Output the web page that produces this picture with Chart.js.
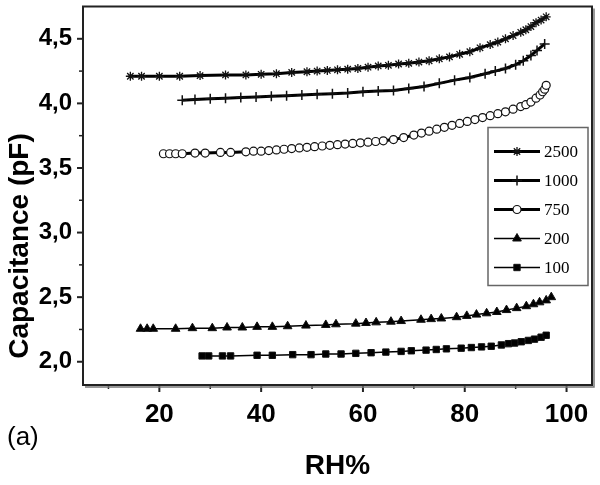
<!DOCTYPE html>
<html>
<head>
<meta charset="utf-8">
<script src="https://cdn.jsdelivr.net/npm/chart.js@4.4.1/dist/chart.umd.min.js"></script>
<style>
  body { margin: 0; background: #fff; }
</style>
</head>
<body>
<canvas id="c" width="600" height="485"></canvas>
<script>
// values (RH in %, capacitance in pF)
const rh2500 = [14.3, 16.5, 20, 24, 28, 33, 37, 40, 43, 46, 49, 51, 53, 55, 57, 59, 61, 63, 65, 67, 69, 71, 73, 75, 77, 79, 81, 83, 85, 86.5, 88, 89.5, 91, 92, 93, 94, 95, 96];
const c2500  = [4.21, 4.21, 4.21, 4.21, 4.215, 4.22, 4.22, 4.225, 4.23, 4.24, 4.245, 4.25, 4.255, 4.26, 4.265, 4.27, 4.28, 4.29, 4.295, 4.305, 4.31, 4.32, 4.33, 4.345, 4.36, 4.38, 4.40, 4.43, 4.455, 4.475, 4.50, 4.525, 4.55, 4.57, 4.595, 4.625, 4.645, 4.67];

const rh1000 = [24.5, 27, 30, 33, 36, 39, 42, 45, 48, 51, 54, 57, 60, 63, 66, 69, 72, 75, 78, 81, 84, 86, 88, 90, 91.5, 93, 94.2, 95.7];
const c1000  = [4.025, 4.03, 4.035, 4.04, 4.045, 4.05, 4.055, 4.06, 4.065, 4.07, 4.075, 4.08, 4.09, 4.095, 4.10, 4.115, 4.13, 4.155, 4.18, 4.20, 4.23, 4.25, 4.27, 4.30, 4.33, 4.37, 4.41, 4.46];

const rh750 = [20.8, 22, 23.2, 24.5, 27, 29, 32, 34, 37, 38.5, 40, 41.5, 43, 44.5, 46, 47.5, 49, 50.5, 52, 53.5, 55, 56.5, 58, 59.5, 61, 62.5, 64, 66, 68, 70, 71.5, 73, 74.5, 76, 77.5, 79, 80.5, 82, 83.5, 85, 86.5, 88, 89.5, 91, 92, 93, 94, 94.8, 95.3, 95.7, 96];
const c750  = [3.61, 3.61, 3.61, 3.61, 3.615, 3.615, 3.62, 3.62, 3.625, 3.63, 3.63, 3.635, 3.64, 3.645, 3.65, 3.655, 3.66, 3.665, 3.67, 3.675, 3.68, 3.685, 3.69, 3.695, 3.70, 3.705, 3.71, 3.72, 3.735, 3.755, 3.77, 3.785, 3.80, 3.815, 3.83, 3.845, 3.86, 3.875, 3.89, 3.905, 3.92, 3.935, 3.955, 3.975, 3.99, 4.01, 4.04, 4.065, 4.09, 4.11, 4.14];

const rh200 = [16.3, 17.6, 18.8, 23.2, 26.5, 30.4, 33.3, 36.3, 39.2, 42.2, 45.2, 48.8, 52.7, 54.7, 58.6, 60.6, 62.6, 65.5, 67.5, 71.4, 73.4, 75.4, 78.4, 80.4, 82.3, 84.3, 86.3, 88.2, 90.2, 92.1, 93.5, 94.7, 96, 97];
const c200  = [2.255, 2.255, 2.255, 2.255, 2.26, 2.26, 2.265, 2.265, 2.27, 2.27, 2.275, 2.28, 2.285, 2.29, 2.295, 2.30, 2.305, 2.31, 2.315, 2.325, 2.33, 2.335, 2.345, 2.355, 2.365, 2.375, 2.385, 2.40, 2.415, 2.43, 2.445, 2.46, 2.475, 2.50];

const rh100 = [28.4, 29.7, 32.4, 34, 39.2, 42.2, 46.2, 49.8, 52.7, 55.7, 58.6, 61.6, 64.5, 67.5, 69.5, 72.4, 74.4, 76.4, 79.3, 81.3, 83.3, 85.2, 87.2, 88.6, 89.8, 91.1, 92.5, 93.7, 95, 96];
const c100  = [2.045, 2.045, 2.045, 2.045, 2.05, 2.05, 2.055, 2.055, 2.06, 2.06, 2.065, 2.07, 2.075, 2.08, 2.085, 2.09, 2.095, 2.10, 2.105, 2.11, 2.115, 2.12, 2.13, 2.14, 2.145, 2.155, 2.165, 2.175, 2.19, 2.205];

const seriesNames = ['2500', '1000', '750', '200', '100'];
const xTickValues = [10, 20, 30, 40, 50, 60, 70, 80, 90, 100];
const yTickValues = [2.0, 2.25, 2.5, 2.75, 3.0, 3.25, 3.5, 3.75, 4.0, 4.25, 4.5];

function pts(xs, ys) {
    return xs.map((x, i) => ({ x: x, y: ys[i] }));
}

function fnt(s, bold) {
    return (bold ? 'bold ' : '') + s + 'px "Liberation Sans", Arial, sans-serif';
}

// frame, tick marks, legend, axis titles
const decor = {
    id: 'decor',
    afterDatasetsDraw(chart) {
        const ctx = chart.ctx, a = chart.chartArea;
        const xs = chart.scales.x, ys = chart.scales.y;
        ctx.save();
        // legend box
        const x0 = a.right - 104, y0 = a.top + 121, w = 100, h = 158;
        ctx.fillStyle = '#fff';
        ctx.fillRect(x0, y0, w, h);
        ctx.strokeStyle = '#666';
        ctx.lineWidth = 1.5;
        ctx.strokeRect(x0, y0, w, h);
        chart.data.datasets.forEach((ds, i) => {
            const y = y0 + 24 + i * 29;
            ctx.strokeStyle = '#000';
            ctx.lineWidth = ds.borderWidth;
            ctx.beginPath();
            ctx.moveTo(x0 + 6, y);
            ctx.lineTo(x0 + 52, y);
            ctx.stroke();
            ctx.fillStyle = ds.pointBackgroundColor;
            ctx.strokeStyle = ds.pointBorderColor;
            ctx.lineWidth = ds.pointBorderWidth;
            if (Chart.helpers && Chart.helpers.drawPoint) {
                Chart.helpers.drawPoint(ctx, { pointStyle: ds.pointStyle, radius: ds.pointRadius, borderWidth: ds.pointBorderWidth, rotation: 0 }, x0 + 29, y);
            }
            ctx.fillStyle = '#000';
            ctx.font = '17px "Liberation Serif", "Times New Roman", serif';
            ctx.textBaseline = 'middle';
            ctx.textAlign = 'left';
            ctx.fillText(ds.label, x0 + 56, y + 1);
        });
        // tick marks
        ctx.strokeStyle = '#222';
        xTickValues.forEach(v => {
            const px = xs.getPixelForValue(v);
            const major = v % 20 === 0;
            ctx.lineWidth = major ? 2 : 1.5;
            ctx.beginPath();
            ctx.moveTo(px, a.bottom);
            ctx.lineTo(px, a.bottom + (major ? 7 : 4));
            ctx.stroke();
        });
        yTickValues.forEach(v => {
            const py = ys.getPixelForValue(v);
            const major = Math.abs(v * 2 - Math.round(v * 2)) < 1e-6;
            ctx.lineWidth = major ? 2 : 1.5;
            ctx.beginPath();
            ctx.moveTo(a.left, py);
            ctx.lineTo(a.left - (major ? 6 : 4), py);
            ctx.stroke();
        });
        // frame
        ctx.strokeStyle = '#222';
        ctx.lineWidth = 2;
        ctx.strokeRect(a.left, a.top, a.right - a.left, a.bottom - a.top);
        ctx.strokeStyle = '#777';
        ctx.lineWidth = 1.5;
        ctx.beginPath();
        ctx.moveTo(a.left + 2, a.bottom + 2);
        ctx.lineTo(a.right + 2, a.bottom + 2);
        ctx.lineTo(a.right + 2, a.top + 2);
        ctx.stroke();
        // titles
        ctx.fillStyle = '#000';
        ctx.textAlign = 'center';
        ctx.textBaseline = 'middle';
        ctx.font = fnt(28, true);
        ctx.fillText('RH%', (a.left + a.right) / 2, 466);
        ctx.save();
        ctx.translate(20, 246);
        ctx.rotate(-Math.PI / 2);
        ctx.fillText('Capacitance (pF)', 0, 0);
        ctx.restore();
        ctx.textAlign = 'left';
        ctx.font = fnt(26, false);
        ctx.fillText('(a)', 7, 438);
        ctx.restore();
    }
};

function lineSet(label, xs, ys, style, radius, lw, pbw, fill) {
    return {
        label: label,
        data: pts(xs, ys),
        borderColor: '#000',
        backgroundColor: '#000',
        borderWidth: lw,
        pointStyle: style,
        pointRadius: radius,
        pointBorderWidth: pbw,
        pointBorderColor: '#111',
        pointBackgroundColor: fill,
        tension: 0,
        fill: false
    };
}

const data = {
    datasets: [
        lineSet(seriesNames[0], rh2500, c2500, 'star', 4.5, 3, 1.3, '#333'),
        lineSet(seriesNames[1], rh1000, c1000, 'cross', 5, 3, 1.5, '#000'),
        lineSet(seriesNames[2], rh750, c750, 'circle', 4, 3, 1.2, '#fff'),
        lineSet(seriesNames[3], rh200, c200, 'triangle', 5, 1.5, 1, '#000'),
        lineSet(seriesNames[4], rh100, c100, 'rect', 4.5, 1.5, 1, '#000')
    ]
};

const config = {
    type: 'line',
    data: data,
    plugins: [decor],
    options: {
        responsive: false,
        animation: false,
        layout: { padding: { top: 5, right: 8, left: 0, bottom: 0 } },
        plugins: { legend: { display: false }, tooltip: { enabled: false } },
        scales: {
            x: {
                type: 'linear',
                min: 5, max: 105,
                afterBuildTicks: s => { s.ticks = xTickValues.map(v => ({ value: v })); },
                afterFit: s => { s.height = 100; s.paddingLeft = 0; s.paddingRight = 0; },
                grid: { drawOnChartArea: false, color: 'transparent', tickLength: 6 },
                border: { display: false },
                ticks: {
                    padding: 8,
                    color: '#000',
                    font: { family: '"Liberation Sans", Arial, sans-serif', size: 26, weight: 'bold' },
                    maxRotation: 0,
                    autoSkip: false,
                    callback: v => (v % 20 === 0 ? String(v) : '')
                }
            },
            y: {
                type: 'linear',
                min: 1.82, max: 4.75,
                afterBuildTicks: s => { s.ticks = yTickValues.map(v => ({ value: v })); },
                afterFit: s => { s.width = 83; s.paddingTop = 0; s.paddingBottom = 0; },
                grid: { drawOnChartArea: false, color: 'transparent', tickLength: 6 },
                border: { display: false },
                ticks: {
                    padding: 5,
                    color: '#000',
                    font: { family: '"Liberation Sans", Arial, sans-serif', size: 24, weight: 'bold' },
                    autoSkip: false,
                    callback: v => (Math.abs(v * 2 - Math.round(v * 2)) < 1e-6 ? v.toFixed(1).replace('.', ',') : '')
                }
            }
        }
    }
};

new Chart(document.getElementById('c').getContext('2d'), config);
</script>
</body>
</html>
